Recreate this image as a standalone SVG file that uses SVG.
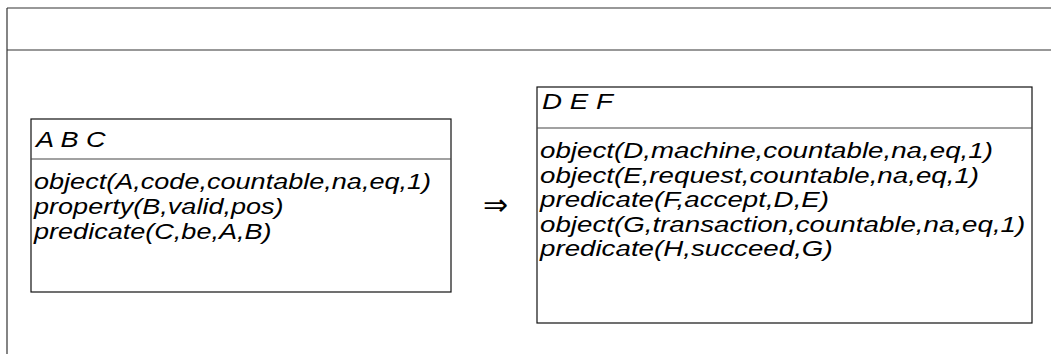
<svg xmlns="http://www.w3.org/2000/svg" width="1051" height="354" viewBox="0 0 1051 354">
<style>
  .frame { stroke: #333; stroke-width: 1.2; fill: none; }
  .box { stroke: #111; stroke-width: 1.2; fill: #fff; }
  .sep { stroke: #444; stroke-width: 1.2; }
  .t { font-family: "Liberation Sans", Arial, sans-serif; font-style: italic; font-size: 22px; fill: #000; }
  .arrow { font-family: "DejaVu Sans", "Liberation Sans", sans-serif; font-size: 30px; fill: #000; }
</style>
<rect width="1051" height="354" fill="#fff"/>
<g id="frame">
  <line class="frame" x1="7" y1="8" x2="7" y2="354"/>
  <line class="frame" x1="7" y1="8" x2="1051" y2="8"/>
  <line class="frame" x1="7" y1="50" x2="1051" y2="50"/>
</g>
<g id="node-abc">
  <rect class="box" x="31" y="119" width="420" height="173"/>
  <line class="sep" x1="31" y1="159" x2="451" y2="159"/>
  <text class="t" transform="translate(36,147) scale(1.23,1)">A B C</text>
  <text class="t" transform="translate(34,189) scale(1.23,1)">object(A,code,countable,na,eq,1)</text>
  <text class="t" transform="translate(34,214) scale(1.23,1)">property(B,valid,pos)</text>
  <text class="t" transform="translate(34,239) scale(1.23,1)">predicate(C,be,A,B)</text>
</g>
<g id="connectors">
  <text class="arrow" x="483" y="215">⇒</text>
</g>
<g id="node-def">
  <rect class="box" x="537" y="87" width="495" height="236"/>
  <line class="sep" x1="537" y1="128" x2="1032" y2="128"/>
  <text class="t" transform="translate(542,109) scale(1.26,1)">D E F</text>
  <text class="t" transform="translate(540,158) scale(1.26,1)">object(D,machine,countable,na,eq,1)</text>
  <text class="t" transform="translate(540,182.5) scale(1.26,1)">object(E,request,countable,na,eq,1)</text>
  <text class="t" transform="translate(540,207) scale(1.26,1)">predicate(F,accept,D,E)</text>
  <text class="t" transform="translate(540,231.5) scale(1.26,1)">object(G,transaction,countable,na,eq,1)</text>
  <text class="t" transform="translate(540,256) scale(1.26,1)">predicate(H,succeed,G)</text>
</g>
</svg>
